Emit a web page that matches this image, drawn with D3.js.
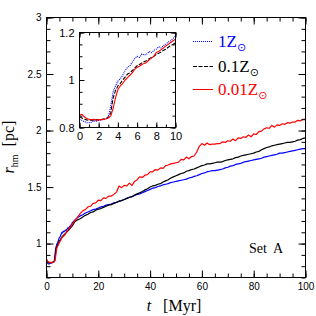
<!DOCTYPE html>
<html>
<head>
<meta charset="utf-8">
<script src="https://cdn.jsdelivr.net/npm/d3@7"></script>
<style>
  body { margin: 0; background: #fff; }
  svg { display: block; }
  .tk text { font-family: "Liberation Sans", sans-serif; fill: #000; }
  .serif { font-family: "Liberation Serif", serif; }
</style>
</head>
<body>
<svg id="chart" width="316" height="316"></svg>
<script>
const tEarly = [0, 0.25, 0.5, 0.75, 1, 1.25, 1.5, 1.75, 2, 2.25, 2.5, 2.75, 3, 3.25, 3.5, 3.75,
  4, 4.25, 4.5, 4.75, 5, 5.25, 5.5, 5.75, 6, 6.25, 6.5, 6.75, 7, 7.25, 7.5, 7.75,
  8, 8.25, 8.5, 8.75, 9, 9.25, 9.5, 9.75, 10];
const rSolarEarly = [0.835, 0.83, 0.825, 0.82, 0.82, 0.822, 0.828, 0.826, 0.83, 0.832, 0.834, 0.838, 0.845, 0.89, 0.95, 0.975,
  0.995, 1.005, 1.02, 1.04, 1.053, 1.06, 1.075, 1.09, 1.1, 1.095, 1.11, 1.105, 1.109, 1.12, 1.115, 1.125,
  1.13, 1.14, 1.135, 1.145, 1.151, 1.16, 1.165, 1.175, 1.186];
const rTenthEarly = [0.845, 0.84, 0.835, 0.832, 0.83, 0.832, 0.83, 0.833, 0.832, 0.834, 0.836, 0.838, 0.842, 0.86, 0.925, 0.955,
  0.975, 0.985, 1.0, 1.012, 1.025, 1.03, 1.04, 1.05, 1.06, 1.065, 1.072, 1.078, 1.081, 1.09, 1.095, 1.1,
  1.109, 1.112, 1.118, 1.125, 1.13, 1.138, 1.145, 1.15, 1.158];
const rHundredthEarly = [0.852, 0.856, 0.845, 0.838, 0.835, 0.832, 0.835, 0.831, 0.833, 0.832, 0.835, 0.836, 0.84, 0.848, 0.88, 0.925,
  0.96, 0.975, 0.985, 1.0, 1.01, 1.02, 1.03, 1.045, 1.053, 1.058, 1.065, 1.07, 1.074, 1.085, 1.092, 1.1,
  1.116, 1.12, 1.128, 1.135, 1.144, 1.15, 1.158, 1.165, 1.172];

// later phase, every 1 Myr
const tLate = [11, 12, 13, 14, 15, 16, 17, 18, 19, 20, 21, 22, 23, 24, 25, 26, 27, 28, 29, 30,
  31, 32, 33, 34, 35, 36, 37, 38, 39, 40, 41, 42, 43, 44, 45, 46, 47, 48, 49, 50,
  51, 52, 53, 54, 55, 56, 57, 58, 59, 60, 61, 62, 63, 64, 65, 66, 67, 68, 69, 70,
  71, 72, 73, 74, 75, 76, 77, 78, 79, 80, 81, 82, 83, 84, 85, 86, 87, 88, 89, 90,
  91, 92, 93, 94, 95, 96, 97, 98, 99, 100];
const rSolarLate = [1.21, 1.23, 1.245, 1.255, 1.27, 1.28, 1.29, 1.3, 1.305, 1.315, 1.325, 1.33, 1.34, 1.345, 1.35, 1.36, 1.365, 1.375, 1.38, 1.39,
  1.4, 1.41, 1.415, 1.425, 1.435, 1.44, 1.45, 1.46, 1.47, 1.48, 1.49, 1.495, 1.505, 1.51, 1.52, 1.525, 1.53, 1.54, 1.545, 1.55,
  1.555, 1.56, 1.565, 1.57, 1.58, 1.585, 1.595, 1.6, 1.61, 1.62, 1.625, 1.635, 1.64, 1.645, 1.645, 1.65, 1.655, 1.66, 1.67, 1.675,
  1.685, 1.69, 1.7, 1.705, 1.71, 1.72, 1.725, 1.73, 1.735, 1.74, 1.745, 1.75, 1.755, 1.765, 1.77, 1.775, 1.78, 1.785, 1.79, 1.8,
  1.8, 1.805, 1.81, 1.815, 1.82, 1.825, 1.83, 1.835, 1.84, 1.84];
const rTenthLate = [1.195, 1.21, 1.22, 1.235, 1.25, 1.26, 1.275, 1.28, 1.295, 1.305, 1.31, 1.32, 1.33, 1.34, 1.345, 1.355, 1.365, 1.375, 1.38, 1.39,
  1.4, 1.41, 1.415, 1.43, 1.44, 1.45, 1.46, 1.475, 1.485, 1.5, 1.51, 1.515, 1.525, 1.53, 1.545, 1.555, 1.565, 1.58, 1.59, 1.6,
  1.61, 1.62, 1.625, 1.64, 1.645, 1.655, 1.66, 1.67, 1.68, 1.69, 1.695, 1.705, 1.705, 1.71, 1.715, 1.72, 1.72, 1.725, 1.735, 1.74,
  1.745, 1.75, 1.76, 1.765, 1.775, 1.78, 1.785, 1.79, 1.795, 1.8, 1.81, 1.815, 1.83, 1.84, 1.85, 1.855, 1.865, 1.87, 1.875, 1.88,
  1.885, 1.89, 1.895, 1.895, 1.9, 1.905, 1.915, 1.92, 1.93, 1.935];
const rHundredthLate = [1.205, 1.235, 1.265, 1.29, 1.3, 1.325, 1.33, 1.355, 1.36, 1.385, 1.38, 1.405, 1.4, 1.42, 1.42, 1.435, 1.455, 1.51, 1.495, 1.515,
  1.51, 1.535, 1.515, 1.55, 1.565, 1.59, 1.585, 1.605, 1.61, 1.635, 1.635, 1.655, 1.65, 1.67, 1.665, 1.69, 1.695, 1.705, 1.71, 1.715,
  1.72, 1.745, 1.74, 1.765, 1.75, 1.77, 1.775, 1.81, 1.86, 1.885, 1.87, 1.89, 1.875, 1.88, 1.88, 1.885, 1.885, 1.9, 1.895, 1.91,
  1.905, 1.925, 1.91, 1.935, 1.93, 1.945, 1.94, 1.96, 1.945, 1.97, 1.965, 1.99, 1.995, 2.015, 2.025, 2.02, 2.045, 2.03, 2.05, 2.045,
  2.06, 2.055, 2.07, 2.065, 2.075, 2.075, 2.09, 2.085, 2.1, 2.1];

const seriesNames = ["1Z", "0.1Z", "0.01Z"];
const seriesColors = ["#0000ff", "#000000", "#ff0000"];
const seriesDash = ["1,1", "4,1.5", null];

// tick labels
const mainXTicks = [0, 20, 40, 60, 80, 100];
const mainYTicks = [1, 1.5, 2, 2.5, 3];
const insetXTicks = [0, 2, 4, 6, 8, 10];
const insetYTicks = [0.8, 1, 1.2];

const early = [rSolarEarly, rTenthEarly, rHundredthEarly];
const late = [rSolarLate, rTenthLate, rHundredthLate];
const series = seriesNames.map((name, i) => ({
  name,
  color: seriesColors[i],
  dash: seriesDash[i],
  early: tEarly.map((t, j) => [t, early[i][j]]),
  all: tEarly.map((t, j) => [t, early[i][j]]).concat(tLate.map((t, j) => [t, late[i][j]]))
}));

const svg = d3.select("#chart");

// draws the boxed axes with inward ticks on all four sides
function drawFrame(g, x, y, o) {
  const w = x.range()[1], h = y.range()[0];
  const add = (gen, scale, vals, size, labels, tr) => {
    const a = g.append("g").attr("class", "tk")
      .attr("transform", tr)
      .style("font-size", o.fontSize + "px")
      .call(gen(scale).tickValues(vals).tickSizeInner(-size).tickSizeOuter(0)
        .tickPadding(o.pad).tickFormat(labels ? d => String(d) : () => ""));
    a.select(".domain").remove();
    a.selectAll("line").attr("stroke", "#000");
  };
  add(d3.axisBottom, x, o.xMinor, o.minor, false, `translate(0,${h})`);
  add(d3.axisBottom, x, o.xMajor, o.major, true, `translate(0,${h})`);
  add(d3.axisTop, x, o.xMinor, o.minor, false, "translate(0,0)");
  add(d3.axisTop, x, o.xMajor, o.major, false, "translate(0,0)");
  add(d3.axisLeft, y, o.yMinor, o.minor, false, "translate(0,0)");
  add(d3.axisLeft, y, o.yMajor, o.major, true, "translate(0,0)");
  add(d3.axisRight, y, o.yMinor, o.minor, false, `translate(${w},0)`);
  add(d3.axisRight, y, o.yMajor, o.major, false, `translate(${w},0)`);
  g.append("rect").attr("width", w).attr("height", h)
    .attr("fill", "none").attr("stroke", "#000").attr("stroke-width", 1);
}

function drawLines(g, x, y, key, clipId, dashed, width) {
  const w = x.range()[1], h = y.range()[0];
  g.append("clipPath").attr("id", clipId)
    .append("rect").attr("width", w).attr("height", h);
  const line = d3.line().x(d => x(d[0])).y(d => y(d[1]));
  g.append("g").attr("clip-path", `url(#${clipId})`)
    .selectAll("path").data(series).join("path")
    .attr("d", d => line(d[key]))
    .attr("fill", "none")
    .attr("stroke", d => d.color)
    .attr("stroke-width", width)
    .attr("stroke-linejoin", "round")
    .attr("stroke-dasharray", d => dashed ? d.dash : null);
}

// main panel
const main = { left: 46.5, top: 17.5, width: 259, height: 260 };
const gm = svg.append("g").attr("transform", `translate(${main.left},${main.top})`);
const x = d3.scaleLinear().domain([0, 100]).range([0, main.width]);
const y = d3.scaleLinear().domain([0.7, 3]).range([main.height, 0]);
drawLines(gm, x, y, "all", "clipMain", false, 1.2);
drawFrame(gm, x, y, {
  xMajor: mainXTicks, xMinor: d3.range(0, 101, 5),
  yMajor: mainYTicks, yMinor: d3.range(0.7, 3.001, 0.1),
  major: 7, minor: 4, pad: 5, fontSize: 10
});

// inset
const ins = { left: 79.5, top: 32.5, width: 96, height: 95 };
const gi = svg.append("g").attr("transform", `translate(${ins.left},${ins.top})`);
gi.append("rect").attr("width", ins.width).attr("height", ins.height).attr("fill", "#fff");
const xi = d3.scaleLinear().domain([0, 10]).range([0, ins.width]);
const yi = d3.scaleLinear().domain([0.8, 1.2]).range([ins.height, 0]);
drawLines(gi, xi, yi, "early", "clipInset", true, 1.1);
drawFrame(gi, xi, yi, {
  xMajor: insetXTicks, xMinor: d3.range(0, 10.001, 1),
  yMajor: insetYTicks, yMinor: d3.range(0.8, 1.2001, 0.05),
  major: 5, minor: 3, pad: 5, fontSize: 11
});

// legend
const leg = svg.append("g").attr("transform", "translate(193,0)");
const rowY = [41.5, 66.5, 89.5];
series.forEach((s, i) => {
  leg.append("line").attr("x1", 0).attr("x2", 20).attr("y1", rowY[i]).attr("y2", rowY[i])
    .attr("stroke", s.color).attr("stroke-width", 1).attr("stroke-dasharray", s.dash);
  const t = leg.append("text").attr("class", "serif").attr("x", 25).attr("y", rowY[i] + 5)
    .attr("font-size", 17).attr("fill", s.color);
  t.append("tspan").text(s.name);
  t.append("tspan").attr("dy", 4).attr("font-size", 11)
    .style("font-family", "'DejaVu Sans', sans-serif").text("\u2299");
});

// axis titles
const xt = svg.append("text").attr("class", "serif").attr("x", 174).attr("y", 311)
  .attr("text-anchor", "middle").attr("font-size", 16).style("white-space", "pre");
xt.append("tspan").attr("font-style", "italic").text("t");
xt.append("tspan").text("   [Myr]");

const yt = svg.append("text").attr("class", "serif")
  .attr("transform", "translate(14,147) rotate(-90)")
  .attr("text-anchor", "middle").attr("font-size", 16).style("white-space", "pre");
yt.append("tspan").attr("font-style", "italic").text("r");
yt.append("tspan").attr("dy", 4).attr("font-size", 10).text("hm");
yt.append("tspan").attr("dy", -4).text("  [pc]");

svg.append("text").attr("class", "serif").attr("x", 266).attr("y", 253)
  .attr("text-anchor", "middle").attr("font-size", 14).style("white-space", "pre")
  .text("Set  A");
</script>
</body>
</html>
